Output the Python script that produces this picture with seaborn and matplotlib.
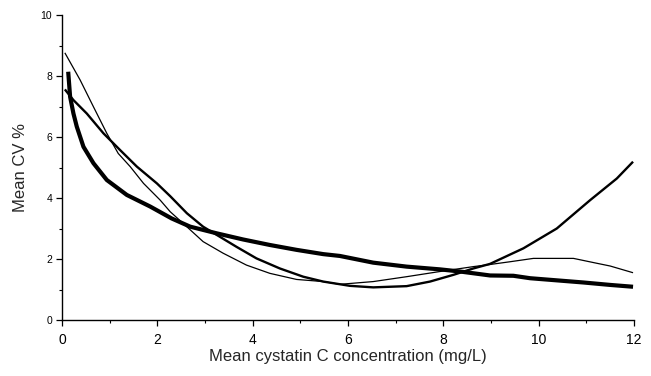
import numpy as np
import pandas as pd
import matplotlib
matplotlib.use("Agg")
import matplotlib.pyplot as plt
import seaborn as sns
from matplotlib.ticker import MultipleLocator

# --- data ---
thin_x = [0.06, 0.38, 0.66, 0.94, 1.18, 1.43, 1.71, 2.06, 2.27, 2.54, 2.96, 3.38, 3.87, 4.36, 4.92, 5.48, 5.83,
          6.53, 7.23, 7.93, 8.63, 8.98, 9.40, 9.89, 10.73, 11.22, 11.50, 11.98]
thin_y = [8.76, 7.87, 6.99, 6.12, 5.46, 5.03, 4.48, 3.93, 3.55, 3.17, 2.57, 2.19, 1.80, 1.53, 1.33, 1.26, 1.17,
          1.26, 1.42, 1.59, 1.75, 1.82, 1.91, 2.02, 2.02, 1.86, 1.77, 1.55]

med_x = [0.06, 0.24, 0.52, 0.87, 1.22, 1.57, 1.99, 2.27, 2.62, 2.96, 3.31, 3.66, 4.08, 4.57, 5.06, 5.48, 6.04,
         6.53, 7.23, 7.72, 8.21, 8.63, 8.98, 9.68, 10.38, 11.08, 11.64, 11.98]
med_y = [7.56, 7.21, 6.77, 6.12, 5.57, 5.03, 4.48, 4.06, 3.50, 3.06, 2.73, 2.40, 2.02, 1.69, 1.42, 1.26, 1.12,
         1.07, 1.11, 1.26, 1.48, 1.69, 1.84, 2.35, 3.00, 3.93, 4.64, 5.19]

thick_x = [0.13, 0.17, 0.24, 0.31, 0.45, 0.66, 0.94, 1.36, 1.85, 2.30, 2.69, 3.25, 3.80, 4.36, 4.92, 5.48, 5.83,
           6.53, 7.23, 7.93, 8.35, 8.98, 9.47, 9.82, 10.38, 10.94, 11.50, 11.98]
thick_y = [8.14, 7.32, 6.77, 6.34, 5.68, 5.14, 4.59, 4.10, 3.72, 3.33, 3.06, 2.84, 2.64, 2.46, 2.30, 2.16, 2.10,
           1.88, 1.75, 1.66, 1.59, 1.46, 1.45, 1.37, 1.30, 1.23, 1.15, 1.09]

x_ticks = [0, 2, 4, 6, 8, 10, 12]
y_ticks = [0, 2, 4, 6, 8, 10]
x_label = "Mean cystatin C concentration (mg/L)"
y_label = "Mean CV %"

sns.set_style("ticks")
plt.rcParams['font.family'] = ['Liberation Sans', 'DejaVu Sans']

fig = plt.figure(figsize=(6.51, 3.76), dpi=100)
ax = fig.add_axes([62/651, 56/376, (634-62)/651, (320-15)/376])

for xs, ys, lw in [(thin_x, thin_y, 0.9), (med_x, med_y, 1.7), (thick_x, thick_y, 3.0)]:
    df = pd.DataFrame({"x": xs, "y": ys})
    sns.lineplot(data=df, x="x", y="y", ax=ax, color="black", linewidth=lw,
                 sort=False, estimator=None, solid_capstyle="butt", solid_joinstyle="round")

ax.set_xlim(0, 12)
ax.set_ylim(0, 10)
ax.set_xticks(x_ticks)
ax.set_yticks(y_ticks)
ax.xaxis.set_minor_locator(MultipleLocator(1))
ax.yaxis.set_minor_locator(MultipleLocator(1))
ax.tick_params(axis="x", which="major", labelsize=10, length=4, width=0.9, direction="out", pad=5, colors="black")
ax.tick_params(axis="y", which="major", labelsize=7.5, length=4, width=0.9, direction="out", pad=3, colors="black")
ax.tick_params(which="minor", length=2, width=0.8, direction="out", colors="black")
sns.despine(ax=ax)
for s in ["left", "bottom"]:
    ax.spines[s].set_linewidth(1.0)
    ax.spines[s].set_color("black")

ax.set_xlabel(x_label, fontsize=12, labelpad=2)
ax.set_ylabel(y_label, fontsize=12, labelpad=9)

fig.savefig("out.png", dpi=100)
